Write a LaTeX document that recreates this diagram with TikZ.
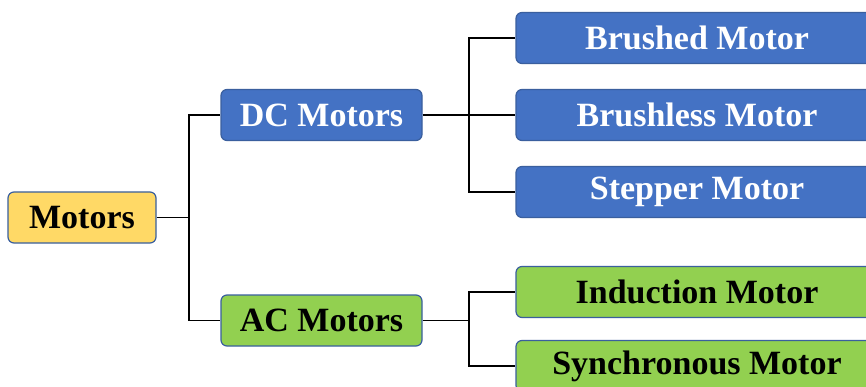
\documentclass[tikz,border=0pt]{standalone}
\usepackage{fontspec}
\setmainfont{Liberation Serif}
\usetikzlibrary{calc}
\definecolor{boxline}{HTML}{3A5F9E}
\definecolor{dcblue}{HTML}{4472C4}
\definecolor{acgreen}{HTML}{92D050}
\definecolor{rootyel}{HTML}{FFD966}

\begin{document}
\begin{tikzpicture}[x=1pt, y=-1pt]

\tikzset{
  box/.style={
    draw=boxline,
    line width=1.2pt,
    align=center,
    inner sep=0pt,
    minimum height=51pt,
    rounded corners=6pt,
    font=\fontsize{34}{38}\selectfont\bfseries
  },
  root/.style={box, fill=rootyel, text=black, minimum width=148pt},
  dcbox/.style={box, fill=dcblue, text=white, minimum width=201pt},
  acbox/.style={box, fill=acgreen, text=black, minimum width=201pt},
  link/.style={line width=1.6pt, black}
}

\clip (0,0) rectangle (866,387);
\fill[white] (0,0) rectangle (866,387);

% Root and the two families
\node[root] (motors) at (82,217.5) {Motors};
\node[dcbox] (dc) at (321.5,115) {DC Motors};
\node[acbox] (ac) at (321.5,320.5) {AC Motors};

% Leaves, running off the right edge
\node[dcbox, minimum width=362pt] (brushed)   at (697,38)  {Brushed Motor};
\node[dcbox, minimum width=362pt] (brushless) at (697,115) {Brushless Motor};
\node[dcbox, minimum width=362pt] (stepper)   at (697,192) {Stepper Motor};
\node[acbox, minimum width=362pt] (induct)    at (697,292) {Induction Motor};
\node[acbox, minimum width=362pt] (sync)      at (697,366) {Synchronous Motor};

% Junctions where the trunks split
\coordinate (j-mot) at (189,0 |- motors.east);
\coordinate (j-dc)  at (469,0 |- dc.east);
\coordinate (j-ac)  at (469,0 |- ac.east);

\draw[link] (motors.east) -- (j-mot);
\draw[link] (j-mot) |- (dc.west);
\draw[link] (j-mot) |- (ac.west);

\draw[link] (dc.east) -- (j-dc);
\draw[link] (j-dc) |- (brushed.west);
\draw[link] (j-dc) -- (brushless.west);
\draw[link] (j-dc) |- (stepper.west);

\draw[link] (ac.east) -- (j-ac);
\draw[link] (j-ac) |- (induct.west);
\draw[link] (j-ac) |- (sync.west);

\end{tikzpicture}
\end{document}
